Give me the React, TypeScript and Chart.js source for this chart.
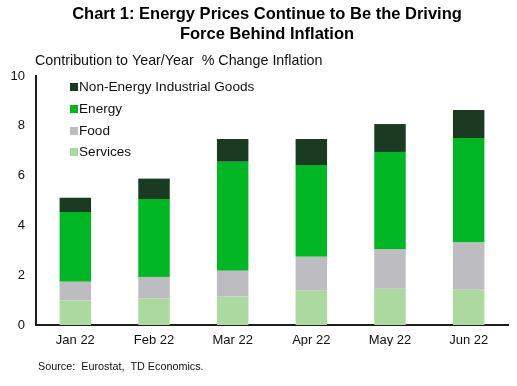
import React, { useEffect, useRef } from "react";
import { Chart, registerables } from "chart.js";

Chart.register(...registerables);

const categories = ["Jan 22", "Feb 22", "Mar 22", "Apr 22", "May 22", "Jun 22"];
const services = [0.98, 1.06, 1.14, 1.38, 1.46, 1.42];
const food = [0.76, 0.87, 1.04, 1.36, 1.59, 1.89];
const energy = [2.8, 3.13, 4.38, 3.69, 3.9, 4.2];
const neig = [0.57, 0.82, 0.91, 1.04, 1.12, 1.12];
const yTicks = [0, 2, 4, 6, 8, 10];

const titleLines = [
  "Chart 1: Energy Prices Continue to Be the Driving",
  "Force Behind Inflation",
];
const axisCaption = "Contribution to Year/Year  % Change Inflation";
const sourceText = "Source:  Eurostat,  TD Economics.";

const FONT = "'Liberation Sans', Arial, sans-serif";
const COLORS = {
  services: "#acd9a0",
  food: "#bdbcc1",
  energy: "#00b624",
  neig: "#1a3b22",
};

export default function App() {
  const ref = useRef<HTMLCanvasElement | null>(null);

  useEffect(() => {
    if (!ref.current) return;

    const textPlugin = {
      id: "textPlugin",
      afterDraw(chart: any) {
        const ctx = chart.ctx;
        ctx.save();
        ctx.fillStyle = "#000";
        ctx.textBaseline = "middle";
        ctx.textAlign = "center";
        ctx.font = `bold 16.5px ${FONT}`;
        ctx.fillText(titleLines[0], 267, 14);
        ctx.fillText(titleLines[1], 267, 34);

        ctx.textAlign = "left";
        ctx.fillStyle = "#111";
        ctx.font = `14.3px ${FONT}`;
        ctx.fillText(axisCaption, 35, 61);

        ctx.font = `10.8px ${FONT}`;
        ctx.fillText(sourceText, 38, 367);

        // legend (reverse order of stacking)
        const ds = chart.data.datasets.slice().reverse();
        ctx.font = `13.6px ${FONT}`;
        const ys = [87, 109, 131, 152];
        ds.forEach((d: any, i: number) => {
          ctx.fillStyle = d.backgroundColor;
          ctx.fillRect(70, ys[i] - 4, 8, 8);
          ctx.fillStyle = "#111";
          ctx.fillText(d.label, 79, ys[i]);
        });
        ctx.restore();
      },
    };

    const chart = new Chart(ref.current, {
      type: "bar",
      data: {
        labels: categories,
        datasets: [
          { label: "Services", data: services, backgroundColor: COLORS.services },
          { label: "Food", data: food, backgroundColor: COLORS.food },
          { label: "Energy", data: energy, backgroundColor: COLORS.energy },
          { label: "Non-Energy Industrial Goods", data: neig, backgroundColor: COLORS.neig },
        ],
      },
      options: {
        responsive: false,
        animation: false,
        layout: { padding: { top: 76, bottom: 40, left: 0, right: 9 }, autoPadding: false },
        datasets: { bar: { barPercentage: 0.4, categoryPercentage: 1.0 } },
        plugins: {
          legend: { display: false },
          title: { display: false },
          tooltip: { enabled: false },
        },
        scales: {
          x: {
            stacked: true,
            grid: { display: false, drawTicks: false },
            border: { display: true, color: "#1a1f1a", width: 2 },
            ticks: { font: { family: FONT, size: 13 }, color: "#111", padding: 8 },
            afterFit: (s: any) => { s.height = 21; },
          },
          y: {
            stacked: true,
            min: 0,
            max: 10,
            afterBuildTicks: (s: any) => { s.ticks = yTicks.map((v) => ({ value: v })); },
            grid: { display: false, drawTicks: false },
            border: { display: true, color: "#1a1f1a", width: 2 },
            ticks: { font: { family: FONT, size: 13 }, color: "#111", padding: 11 },
            afterFit: (s: any) => { s.width = 36; },
          },
        },
      },
      plugins: [textPlugin],
    });
    return () => chart.destroy();
  }, []);

  return (
    <div style={{ position: "absolute", left: 0, top: 0, width: 517, height: 386, background: "#fff" }}>
      <canvas ref={ref} width={517} height={386} />
    </div>
  );
}
